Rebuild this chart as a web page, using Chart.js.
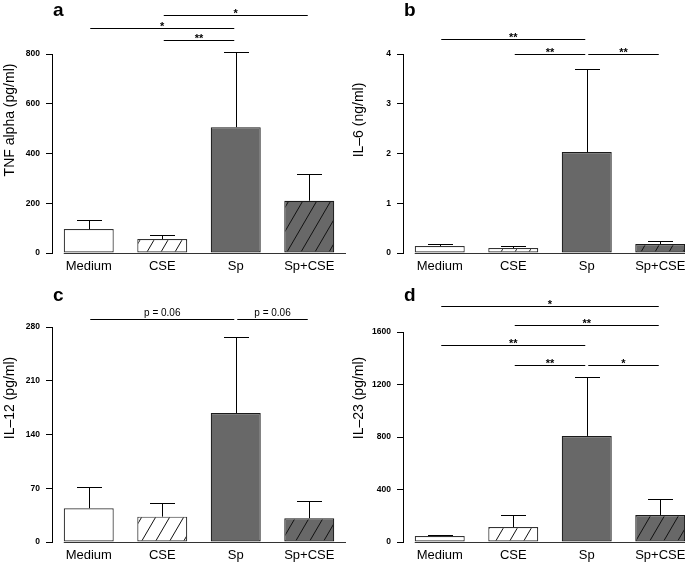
<!DOCTYPE html>
<html><head><meta charset="utf-8">
<script src="https://cdn.jsdelivr.net/npm/chart.js@4"></script>
<style>
html,body{margin:0;padding:0;background:#fff;}
#wrap{position:relative;width:685px;height:562px;overflow:hidden;background:#fff;}
canvas{position:absolute;}
</style></head><body>
<div id="wrap">
<canvas id="ca" width="346" height="280" style="left:0px;top:0px"></canvas>
<canvas id="cb" width="357" height="280" style="left:340px;top:0px"></canvas>
<canvas id="cc" width="346" height="282" style="left:0px;top:280px"></canvas>
<canvas id="cd" width="357" height="282" style="left:340px;top:280px"></canvas>
</div>
<script>
// ---- data ----
const categories = ['Medium', 'CSE', 'Sp', 'Sp+CSE'];

const tnfMean = [96, 56, 506, 210];
const tnfSD   = [37, 16, 302, 108];
const tnfTicks = [0, 200, 400, 600, 800];
const tnfBrackets = [[1, 2, 855, '**'], [0, 2, 905, '*'], [1, 3, 955, '*']];

const il6Mean = [0.14, 0.10, 2.03, 0.18];
const il6SD   = [0.04, 0.04, 1.67, 0.06];
const il6Ticks = [0, 1, 2, 3, 4];
const il6Brackets = [[0, 2, 4.3, '**'], [1, 2, 4.0, '**'], [2, 3, 4.0, '**']];

const il12Mean = [44, 33, 168, 31];
const il12SD   = [28, 18, 99, 22];
const il12Ticks = [0, 70, 140, 210, 280];
const il12Brackets = [[0, 2, 291, 'p = 0.06'], [2, 3, 291, 'p = 0.06']];

const il23Mean = [45, 114, 808, 206];
const il23SD   = [8, 92, 447, 122];
const il23Ticks = [0, 400, 800, 1200, 1600];
const il23Brackets = [[0, 3, 1800, '*'], [1, 3, 1650, '**'], [0, 2, 1500, '**'], [1, 2, 1350, '**'], [2, 3, 1350, '*']];

// ---- styling ----
const FONT = "'Liberation Sans', Arial, Helvetica, sans-serif";
Chart.defaults.font.family = FONT;
Chart.defaults.color = '#000';

function makeHatch(bg) {
  const c = document.createElement('canvas');
  c.width = 14; c.height = 24;
  const g = c.getContext('2d');
  g.fillStyle = bg; g.fillRect(0, 0, 14, 24);
  g.strokeStyle = '#111'; g.lineWidth = 1;
  for (const dx of [-14, 0, 14]) {
    g.beginPath(); g.moveTo(dx, 24); g.lineTo(dx + 14, 0); g.stroke();
  }
  return g.createPattern(c, 'repeat');
}
const GRAY = '#686868';
const fills = ['#ffffff', makeHatch('#ffffff'), GRAY, makeHatch(GRAY)];
const borders = ['#333333', '#333333', '#1a1a1a', '#1a1a1a'];

const panels = [
  {id: 'ca', letter: 'a', title: 'TNF alpha (pg/ml)', mean: tnfMean, sd: tnfSD, ticks: tnfTicks, brackets: tnfBrackets,
   yw: 52, top: 54, xh: 27, titleX: 10, titleY: 120, letterY: 16},
  {id: 'cb', letter: 'b', title: 'IL\u20136 (ng/ml)', mean: il6Mean, sd: il6SD, ticks: il6Ticks, brackets: il6Brackets,
   yw: 63, top: 54, xh: 27, titleX: 19, titleY: 120, letterY: 16},
  {id: 'cc', letter: 'c', title: 'IL\u201312 (pg/ml)', mean: il12Mean, sd: il12SD, ticks: il12Ticks, brackets: il12Brackets,
   yw: 52, top: 47, xh: 20, titleX: 10, titleY: 118, letterY: 21},
  {id: 'cd', letter: 'd', title: 'IL\u201323 (pg/ml)', mean: il23Mean, sd: il23SD, ticks: il23Ticks, brackets: il23Brackets,
   yw: 63, top: 52, xh: 20, titleX: 19, titleY: 118, letterY: 21}
];

function line(ctx, x1, y1, x2, y2) {
  ctx.beginPath(); ctx.moveTo(x1, y1); ctx.lineTo(x2, y2); ctx.stroke();
}

function extrasPlugin(p) {
  return {
    id: 'extras',
    afterDatasetsDraw(chart) {
      const ctx = chart.ctx, ys = chart.scales.y, area = chart.chartArea;
      const meta = chart.getDatasetMeta(0);
      ctx.save();
      ctx.lineWidth = 1;
      // baseline
      const b0 = meta.data[0];
      const by = Math.round(ys.getPixelForValue(0)) + 0.5;
      ctx.strokeStyle = '#333';
      line(ctx, b0.x - b0.width / 2, by, area.right, by);
      // error bars
      ctx.strokeStyle = '#000';
      p.mean.forEach((m, i) => {
        const bar = meta.data[i];
        const bx = Math.round(bar.x) + 0.5;
        const yt = ys.getPixelForValue(m);
        const ye = Math.round(ys.getPixelForValue(m + p.sd[i])) + 0.5;
        line(ctx, bx, yt, bx, ye);
        line(ctx, bx - 12.5, ye, bx + 12.5, ye);
      });
      // significance brackets
      p.brackets.forEach(([i, j, v, lab]) => {
        const x1 = meta.data[i].x + 1.5, x2 = meta.data[j].x - 1.5;
        const y = Math.round(ys.getPixelForValue(v)) + 0.5;
        line(ctx, x1, y, x2, y);
        ctx.fillStyle = '#000';
        ctx.textAlign = 'center';
        ctx.textBaseline = 'alphabetic';
        if (lab.startsWith('p')) {
          ctx.font = '10px ' + FONT;
          ctx.fillText(lab, (x1 + x2) / 2, y - 4);
        } else {
          ctx.font = 'bold 11px ' + FONT;
          ctx.fillText(lab, (x1 + x2) / 2, y + 1);
        }
      });
      // panel letter
      ctx.fillStyle = '#000';
      ctx.font = 'bold 19px ' + FONT;
      ctx.textAlign = 'left';
      ctx.textBaseline = 'alphabetic';
      ctx.fillText(p.letter, area.left + 1, p.letterY);
      // y-axis title
      ctx.font = '14px ' + FONT;
      ctx.translate(p.titleX, p.titleY);
      ctx.rotate(-Math.PI / 2);
      ctx.textAlign = 'center';
      ctx.textBaseline = 'middle';
      ctx.fillText(p.title, 0, 0);
      ctx.restore();
    }
  };
}

panels.forEach(p => {
  new Chart(document.getElementById(p.id), {
    type: 'bar',
    data: {
      labels: categories,
      datasets: [{
        data: p.mean,
        backgroundColor: fills,
        borderColor: borders,
        borderWidth: 1.2,
        borderSkipped: false,
        categoryPercentage: 1,
        barPercentage: 0.68
      }]
    },
    options: {
      responsive: false,
      animation: false,
      devicePixelRatio: 1,
      layout: {padding: {top: p.top, left: 0, right: 0, bottom: 0}},
      plugins: {legend: {display: false}, tooltip: {enabled: false}, title: {display: false}},
      scales: {
        x: {
          type: 'category',
          offset: true,
          grid: {display: false, drawTicks: false},
          border: {display: false},
          ticks: {font: {size: 13}, color: '#000', padding: 6, maxRotation: 0, autoSkip: false},
          afterFit: s => { s.height = p.xh; }
        },
        y: {
          min: p.ticks[0],
          max: p.ticks[p.ticks.length - 1],
          grid: {drawOnChartArea: false, drawTicks: true, tickLength: 6, color: '#000'},
          border: {display: true, color: '#000', width: 1},
          ticks: {font: {size: 8.5, weight: 'bold'}, color: '#000', padding: 6, callback: v => String(v)},
          afterBuildTicks: s => { s.ticks = p.ticks.map(v => ({value: v})); },
          afterFit: s => { s.width = p.yw; }
        }
      }
    },
    plugins: [extrasPlugin(p)]
  });
});
</script>
</body></html>
